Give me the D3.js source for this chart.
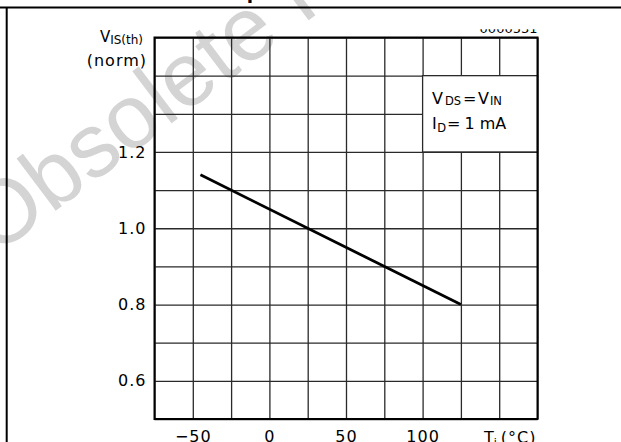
<!DOCTYPE html>
<html>
<head>
<meta charset="utf-8">
<script src="https://cdn.jsdelivr.net/npm/d3@7"></script>
<style>
  html, body { margin: 0; padding: 0; background: #fff; }
  svg { display: block; font-family: "DejaVu Sans", sans-serif; }
</style>
</head>
<body>
<div id="chart"></div>
<script>
// Normalised threshold voltage vs junction temperature
const tempC = [-45, 125];
const vthNorm = [1.14, 0.80];

const xGridValues = [-75, -50, -25, 0, 25, 50, 75, 100, 125, 150, 175];
const yGridValues = [0.5, 0.6, 0.7, 0.8, 0.9, 1.0, 1.1, 1.2, 1.3, 1.4, 1.5];
const xTickLabels = [-50, 0, 50, 100];
const yTickLabels = [0.6, 0.8, 1.0, 1.2];

// condition box sits on grid cells
const legendX = [100, 175];
const legendY = [1.2, 1.4];

function renderChart(containerId) {
  const container = document.getElementById(containerId);
  const width = 621;
  const height = 442;
  const margin = { top: 37.5, right: 83.5, bottom: 23, left: 154.5 };

  const svg = d3.select(container)
    .append('svg')
    .attr('width', width)
    .attr('height', height);

  // watermark behind everything
  svg.append('text')
    .attr('transform', 'translate(-5,256.5) rotate(-37)')
    .style('font-family', '"Liberation Sans", Arial, sans-serif')
    .style('font-size', '90px')
    .attr('fill', '#d4d4d4')
    .text('Obsolete Product');

  // page frame
  svg.append('line')
    .attr('x1', 0).attr('x2', width)
    .attr('y1', 7.5).attr('y2', 7.5)
    .attr('stroke', '#000').attr('stroke-width', 2);
  svg.append('line')
    .attr('x1', 6.7).attr('x2', 6.7)
    .attr('y1', 7.5).attr('y2', height)
    .attr('stroke', '#000').attr('stroke-width', 2);

  // cut off caption dot
  svg.append('text')
    .attr('x', 250).attr('y', 3)
    .attr('text-anchor', 'middle')
    .style('font-size', '18px')
    .style('font-weight', 'bold')
    .text('.');

  const x = d3.scaleLinear()
    .domain([-75, 175])
    .range([margin.left, width - margin.right]);

  const y = d3.scaleLinear()
    .domain([0.5, 1.5])
    .range([height - margin.bottom, margin.top]);

  const plotW = width - margin.left - margin.right;
  const plotH = height - margin.top - margin.bottom;

  // figure code, top half hidden
  svg.append('clipPath').attr('id', 'codeClip')
    .append('rect')
    .attr('x', 400).attr('y', 29.3)
    .attr('width', 200).attr('height', 8);
  svg.append('text')
    .attr('x', x(175)).attr('y', 33.3)
    .attr('text-anchor', 'end')
    .attr('clip-path', 'url(#codeClip)')
    .style('font-size', '13px')
    .text('0000531');

  // Grid
  svg.append('g')
    .attr('class', 'grid')
    .attr('transform', `translate(0,${y(0.5)})`)
    .call(d3.axisBottom(x).tickValues(xGridValues).tickSize(-plotH).tickFormat(''))
    .call(g => g.select('.domain').remove());

  svg.append('g')
    .attr('class', 'grid')
    .attr('transform', `translate(${x(-75)},0)`)
    .call(d3.axisLeft(y).tickValues(yGridValues).tickSize(-plotW).tickFormat(''))
    .call(g => g.select('.domain').remove());

  svg.selectAll('.grid line')
    .attr('stroke', '#2a2a2a')
    .attr('stroke-width', 1.3);

  // Conditions box
  svg.append('rect')
    .attr('x', x(legendX[0]))
    .attr('y', y(legendY[1]))
    .attr('width', x(legendX[1]) - x(legendX[0]))
    .attr('height', y(legendY[0]) - y(legendY[1]))
    .attr('fill', '#fff')
    .attr('stroke', '#2a2a2a')
    .attr('stroke-width', 1.3);

  const cond = svg.append('g').style('font-size', '16px');
  const t1 = cond.append('text').attr('x', 432).attr('y', 103.5);
  t1.append('tspan').text('V');
  t1.append('tspan').attr('dx', 2).attr('dy', 1.5).style('font-size', '11.5px').text('DS');
  t1.append('tspan').attr('dx', 2).attr('dy', -1.5).text('=');
  t1.append('tspan').attr('dx', 1.5).text('V');
  t1.append('tspan').attr('dx', 1).attr('dy', 1.5).style('font-size', '11.5px').text('IN');

  const t2 = cond.append('text').attr('x', 432).attr('y', 128.5);
  t2.append('tspan').text('I');
  t2.append('tspan').attr('dx', 0.5).attr('dy', 3).style('font-size', '11.5px').text('D');
  t2.append('tspan').attr('dx', 1).attr('dy', -3).text('=');
  t2.append('tspan').attr('dx', 4).text('1');
  t2.append('tspan').attr('dx', 5).text('mA');

  // Curve
  const pts = tempC.map((t, i) => [t, vthNorm[i]]);
  svg.append('path')
    .datum(pts)
    .attr('fill', 'none')
    .attr('stroke', '#000')
    .attr('stroke-width', 2.8)
    .attr('d', d3.line().x(d => x(d[0])).y(d => y(d[1])));

  // Plot border
  svg.append('rect')
    .attr('x', x(-75)).attr('y', y(1.5))
    .attr('width', plotW).attr('height', plotH)
    .attr('fill', 'none')
    .attr('stroke', '#000')
    .attr('stroke-width', 2);

  // Y tick labels
  svg.append('g')
    .attr('transform', `translate(${x(-75)},0)`)
    .call(d3.axisLeft(y).tickValues(yTickLabels).tickSize(0).tickPadding(8).tickFormat(d3.format('.1f')))
    .call(g => g.select('.domain').remove())
    .selectAll('text')
    .style('font-family', '"DejaVu Sans", sans-serif')
    .style('font-size', '16px')
    .style('letter-spacing', '1px')
    .attr('fill', '#000');

  // X tick labels
  svg.append('g')
    .attr('transform', `translate(0,${y(0.5)})`)
    .call(d3.axisBottom(x).tickValues(xTickLabels).tickSize(0).tickPadding(12))
    .call(g => g.select('.domain').remove())
    .selectAll('text')
    .style('font-family', '"DejaVu Sans", sans-serif')
    .style('font-size', '16px')
    .style('letter-spacing', '1px')
    .attr('fill', '#000');

  // X axis title
  const xt = svg.append('text')
    .attr('x', 484).attr('y', 443)
    .style('font-size', '16px');
  xt.append('tspan').text('T');
  xt.append('tspan').attr('dy', 3).style('font-size', '11px').text('j');
  xt.append('tspan').attr('dx', 4).attr('dy', -3).style('letter-spacing', '1px').text('(°C)');

  // Y axis title
  const yt = svg.append('text')
    .attr('x', 143).attr('y', 41.7)
    .attr('text-anchor', 'end')
    .style('font-size', '15px');
  yt.append('tspan').text('V');
  yt.append('tspan').attr('dy', 2.5).style('font-size', '12px').text('IS(th)');

  svg.append('text')
    .attr('x', 147).attr('y', 65.5)
    .attr('text-anchor', 'end')
    .style('font-size', '16px')
    .style('letter-spacing', '1px')
    .text('(norm)');
}

renderChart('chart');
</script>
</body>
</html>
